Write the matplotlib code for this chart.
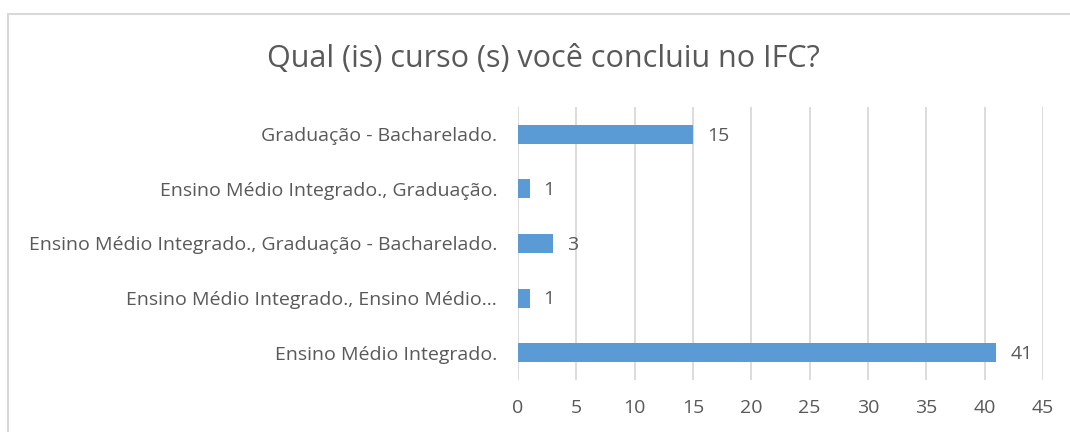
import matplotlib
matplotlib.use("Agg")
import matplotlib.pyplot as plt
from matplotlib.patches import Rectangle

categories = [
    "Ensino Médio Integrado.",
    "Ensino Médio Integrado., Ensino Médio…",
    "Ensino Médio Integrado., Graduação - Bacharelado.",
    "Ensino Médio Integrado., Graduação.",
    "Graduação - Bacharelado.",
]
values = [41, 1, 3, 1, 15]
xticks = [0, 5, 10, 15, 20, 25, 30, 35, 40, 45]
title = "Qual (is) curso (s) você concluiu no IFC?"

TEXT = "#595959"
GRID = "#d9d9d9"
BAR = "#5b9bd5"
FONT = "Open Sans"
FS = 14

W, H = 1070, 432
fig = plt.figure(figsize=(W / 100, H / 100), dpi=100)
fig.patch.set_facecolor("white")

# chart border
fig.add_artist(Rectangle((8 / W, -0.1), 1.2, 1 - 14 / H + 0.1,
                         transform=fig.transFigure, fill=False,
                         edgecolor=GRID, linewidth=1.5))

ax = fig.add_axes([518 / W, 1 - 380 / H, (1043 - 518) / W, (380 - 107) / H])
ypos = list(range(len(categories)))
ax.barh(ypos, values, height=0.35, color=BAR, zorder=3)
ax.set_xlim(0, 45)
ax.set_ylim(-0.5, len(categories) - 0.5)
ax.set_xticks(xticks)
ax.set_xticklabels([str(t) for t in xticks], fontsize=FS, color=TEXT, family=FONT)
ax.set_yticks(ypos)
ax.set_yticklabels(categories, fontsize=FS, color=TEXT, family=FONT)
ax.tick_params(axis="both", length=0)
ax.tick_params(axis="y", pad=15)
ax.tick_params(axis="x", pad=14)
ax.grid(axis="x", color=GRID, linewidth=1.3, zorder=0)
for s in ax.spines.values():
    s.set_visible(False)

for y, v in zip(ypos, values):
    ax.annotate(str(v), (v, y), xytext=(10, -1), textcoords="offset points",
                ha="left", va="center", fontsize=FS, color=TEXT, family=FONT)

fig.text(543 / W, 1 - 59 / H, title, ha="center", va="center",
         fontsize=22, color=TEXT, family=FONT)

fig.savefig("out.png", dpi=100, facecolor="white")
